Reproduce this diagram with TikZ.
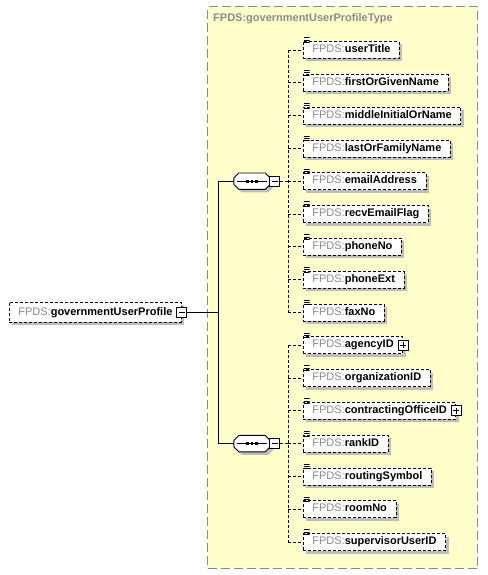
\documentclass[tikz,border=0pt]{standalone}
\usepackage{fontspec}
\setmainfont{Liberation Sans}
\usepackage{xcolor}
\usepackage{tikz}
\usetikzlibrary{positioning,shadows}
\definecolor{fpgray}{HTML}{8A8A8A}
\definecolor{ctfill}{HTML}{FFFFCC}
\definecolor{shd}{HTML}{BDBDBD}
\newcommand{\fpds}[1]{{\color{fpgray}FPDS:}\textbf{#1}}
\tikzset{
  ctype/.style={draw=fpgray, fill=ctfill, line width=1.2bp, dash pattern=on 9bp off 4bp, inner sep=0pt},
  ttl/.style={text=fpgray, font=\fontsize{11bp}{13bp}\selectfont\bfseries, inner sep=0pt},
  icn/.style={anchor=north west, inner sep=0pt, minimum width=6bp, minimum height=6bp, xshift=0.5bp, yshift=4bp,
    path picture={
      \draw[line width=0.8bp] ([yshift=-0.5bp]path picture bounding box.north west) -- ++(6bp,0);
      \draw[line width=0.8bp] ([yshift=-2.8bp]path picture bounding box.north west) -- ++(6bp,0);
      \draw[line width=0.8bp] ([yshift=-5.1bp]path picture bounding box.north west) -- ++(6bp,0);}},
  dbox/.style={draw, fill=white, line width=0.8bp, dash pattern=on 3bp off 2bp, inner xsep=9bp, inner ysep=0pt,
    minimum height=17bp, text height=8bp, text depth=2.5bp,
    drop shadow={shadow xshift=3bp, shadow yshift=-3bp, fill=shd, opacity=1}},
  ebox/.style={dbox, label={[icn]north west:}},
  seqbox/.style={minimum width=36bp, minimum height=16bp, inner sep=0pt},
  seqoct/.style={draw, fill=white, line width=0.9bp,
    drop shadow={shadow xshift=3bp, shadow yshift=-3bp, fill=shd, opacity=1},
    path picture={
      \draw[black, line width=1bp] ([xshift=3bp]path picture bounding box.west) -- ([xshift=-3bp]path picture bounding box.east);
      \fill[black] ([xshift=-5.8bp,yshift=-1.4bp]path picture bounding box.center) rectangle ++(2.8bp,2.8bp);
      \fill[black] ([xshift=-1.4bp,yshift=-1.4bp]path picture bounding box.center) rectangle ++(2.8bp,2.8bp);
      \fill[black] ([xshift=3bp,yshift=-1.4bp]path picture bounding box.center) rectangle ++(2.8bp,2.8bp);}},
  mbox/.style={draw, fill=white, line width=1bp, minimum size=10bp, inner sep=0pt,
    path picture={\draw[black, line width=1bp] ([xshift=2bp]path picture bounding box.west) -- ([xshift=-2bp]path picture bounding box.east);}},
  pbox/.style={draw, fill=white, line width=1bp, minimum size=10bp, inner sep=0pt,
    path picture={
      \draw[black, line width=1bp] ([xshift=2bp]path picture bounding box.west) -- ([xshift=-2bp]path picture bounding box.east);
      \draw[black, line width=1bp] ([yshift=-2bp]path picture bounding box.north) -- ([yshift=2bp]path picture bounding box.south);}},
  sline/.style={line width=0.9bp},
  dline/.style={line width=0.8bp, dash pattern=on 3bp off 2bp}
}

\begin{document}
\begin{tikzpicture}[x=1bp, y=-1bp, font=\fontsize{11bp}{13bp}\selectfont]
\useasboundingbox (0,0) rectangle (488,575);
% complex type
\node[ctype, minimum width=270bp, minimum height=562bp, anchor=north west] (ct) at (207,6) {};
\node[ttl, anchor=base west] (tt) at (213,22) {FPDS:governmentUserProfileType};
% elements
\node[ebox, anchor=west] (e1) at (303,50) {\fpds{userTitle}};
\node[ebox, below=15bp of e1.south west, anchor=north west] (e2) {\fpds{firstOrGivenName}};
\node[ebox, below=15bp of e2.south west, anchor=north west] (e3) {\fpds{middleInitialOrName}};
\node[ebox, below=15bp of e3.south west, anchor=north west] (e4) {\fpds{lastOrFamilyName}};
\node[ebox, below=15bp of e4.south west, anchor=north west] (e5) {\fpds{emailAddress}};
\node[ebox, below=15bp of e5.south west, anchor=north west] (e6) {\fpds{recvEmailFlag}};
\node[ebox, below=15bp of e6.south west, anchor=north west] (e7) {\fpds{phoneNo}};
\node[ebox, below=15bp of e7.south west, anchor=north west] (e8) {\fpds{phoneExt}};
\node[ebox, below=15bp of e8.south west, anchor=north west] (e9) {\fpds{faxNo}};
\node[ebox, below=15bp of e9.south west, anchor=north west] (e10) {\fpds{agencyID}\hspace{2bp}};
\node[ebox, below=15bp of e10.south west, anchor=north west] (e11) {\fpds{organizationID}};
\node[ebox, below=15bp of e11.south west, anchor=north west] (e12) {\fpds{contractingOfficeID}\hspace{2bp}};
\node[ebox, below=15bp of e12.south west, anchor=north west] (e13) {\fpds{rankID}};
\node[ebox, below=15bp of e13.south west, anchor=north west] (e14) {\fpds{routingSymbol}};
\node[ebox, below=15bp of e14.south west, anchor=north west] (e15) {\fpds{roomNo}};
\node[ebox, below=15bp of e15.south west, anchor=north west] (e16) {\fpds{supervisorUserID}};
\node[pbox] (p10) at (e10.east) {};
\node[pbox] (p12) at (e12.east) {};
% sequences
\node[seqbox] (s1) at (252,0 |- e5.west) {};
\filldraw[seqoct] ([xshift=5bp]s1.north west) -- ([xshift=-5bp]s1.north east) -- ([yshift=-5bp]s1.north east)
  -- ([yshift=5bp]s1.south east) -- ([xshift=-5bp]s1.south east) -- ([xshift=5bp]s1.south west)
  -- ([yshift=5bp]s1.south west) -- ([yshift=-5bp]s1.north west) -- cycle;
\node[mbox, right=-1bp of s1] (m1) {};
\node[seqbox] (s2) at (252,0 |- e13.west) {};
\filldraw[seqoct] ([xshift=5bp]s2.north west) -- ([xshift=-5bp]s2.north east) -- ([yshift=-5bp]s2.north east)
  -- ([yshift=5bp]s2.south east) -- ([xshift=-5bp]s2.south east) -- ([xshift=5bp]s2.south west)
  -- ([yshift=5bp]s2.south west) -- ([yshift=-5bp]s2.north west) -- cycle;
\node[mbox, right=-1bp of s2] (m2) {};
% root element
\node[dbox, minimum height=20bp, anchor=west] (root) at (9,0 |- e9.west) {\fpds{governmentUserProfile}\hspace{3bp}};
\node[mbox] (rm) at (root.east) {};
\coordinate (bl) at (218,0);
\coordinate (br) at (288,0);
\draw[sline] (rm.east) -- (rm.east -| bl);
\draw[sline] (s1.west) -- (s1.west -| bl) -- (s2.west -| bl) -- (s2.west);
\draw[dline] (m1.east) -- (m1.east -| br);
\draw[dline] (m2.east) -- (m2.east -| br);
\draw[dline] (e1.west -| br) -- (e9.west -| br);
\draw[dline] (e10.west -| br) -- (e16.west -| br);
\draw[dline] (e1.west -| br) -- (e1.west);
\draw[dline] (e2.west -| br) -- (e2.west);
\draw[dline] (e3.west -| br) -- (e3.west);
\draw[dline] (e4.west -| br) -- (e4.west);
\draw[dline] (e5.west -| br) -- (e5.west);
\draw[dline] (e6.west -| br) -- (e6.west);
\draw[dline] (e7.west -| br) -- (e7.west);
\draw[dline] (e8.west -| br) -- (e8.west);
\draw[dline] (e9.west -| br) -- (e9.west);
\draw[dline] (e10.west -| br) -- (e10.west);
\draw[dline] (e11.west -| br) -- (e11.west);
\draw[dline] (e12.west -| br) -- (e12.west);
\draw[dline] (e13.west -| br) -- (e13.west);
\draw[dline] (e14.west -| br) -- (e14.west);
\draw[dline] (e15.west -| br) -- (e15.west);
\draw[dline] (e16.west -| br) -- (e16.west);
\end{tikzpicture}
\end{document}
